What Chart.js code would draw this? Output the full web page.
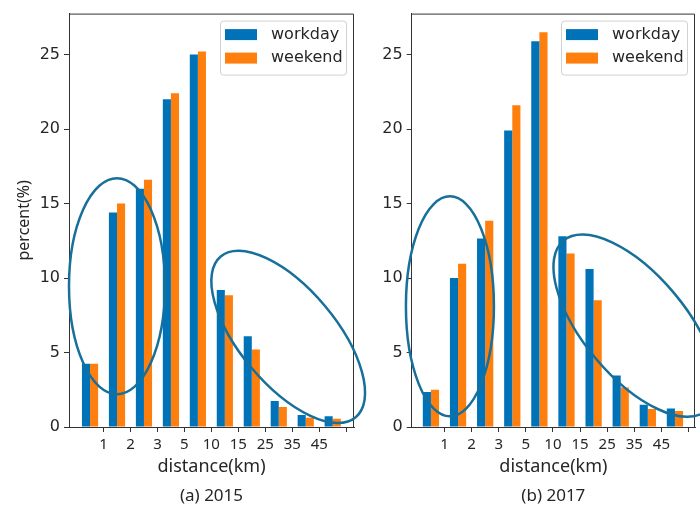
<!DOCTYPE html>
<html>
<head>
<meta charset="utf-8">
<script src="https://cdn.jsdelivr.net/npm/chart.js@4.4.1/dist/chart.umd.min.js"></script>
<style>
  html, body { margin: 0; padding: 0; background: #fff; }
  #wrap { position: relative; width: 700px; height: 506px; overflow: hidden; }
  #wrap canvas { position: absolute; top: 0; }
  #chart2015 { left: 0; }
  #chart2017 { left: 350px; }
</style>
</head>
<body>
<div id="wrap">
  <canvas id="chart2015" width="370" height="506"></canvas>
  <canvas id="chart2017" width="350" height="506"></canvas>
</div>
<script>
// DATA
// =============================================================================

// bin edges shown between the bar groups (last tick has no label)
const distanceEdges = ["1", "2", "3", "5", "10", "15", "25", "35", "45", ""];
const binIndex = [0, 1, 2, 3, 4, 5, 6, 7, 8, 9];
const edgeTicks = [0.5, 1.5, 2.5, 3.5, 4.5, 5.5, 6.5, 7.5, 8.5, 9.5];
const percentTicks = [0, 5, 10, 15, 20, 25];

const workday2015 = [4.25, 14.4, 16.0, 22.0, 25.0, 9.2, 6.1, 1.75, 0.8, 0.72];
const weekend2015 = [4.25, 15.0, 16.6, 22.4, 25.2, 8.85, 5.2, 1.35, 0.62, 0.55];
const workday2017 = [2.35, 10.0, 12.65, 19.9, 25.9, 12.8, 10.6, 3.45, 1.5, 1.25];
const weekend2017 = [2.5, 10.95, 13.85, 21.6, 26.5, 11.65, 8.5, 2.65, 1.2, 1.08];

// highlight ellipses: centre in data units, radii in px, rotation in degrees
const ellipses2015 = [
  { x: 1.0, y: 9.45, rx: 48, ry: 108, angle: 0 },
  { x: 7.35, y: 6.05, rx: 105, ry: 48, angle: 50 },
];
const ellipses2017 = [
  { x: 0.7, y: 8.1, rx: 44, ry: 110, angle: 0 },
  { x: 7.52, y: 6.8, rx: 111, ry: 51, angle: 50 },
];

const WORKDAY_COLOR = "#0072b8";
const WEEKEND_COLOR = "#ff7f0e";
const ELLIPSE_COLOR = "#17709a";
const AXIS_COLOR = "#333333";
const TEXT_COLOR = "#262626";

// =============================================================================

const toPoints = (values) => values.map((v, i) => ({ x: binIndex[i], y: v }));

// draws the top/right spines, the inset legend and the ellipses
const decorPlugin = {
  id: "decor",
  afterDraw(chart, args, opts) {
    const { ctx, chartArea: a, scales } = chart;
    ctx.save();

    ctx.strokeStyle = AXIS_COLOR;
    ctx.lineWidth = 1;
    ctx.beginPath();
    ctx.moveTo(a.left, a.top + 0.5);
    ctx.lineTo(a.right - 0.5, a.top + 0.5);
    ctx.lineTo(a.right - 0.5, a.bottom);
    ctx.stroke();

    // legend box
    const bw = 126, bh = 54;
    const bx = a.right - 8 - bw, by = a.top + 7;
    ctx.beginPath();
    ctx.roundRect(bx + 0.5, by + 0.5, bw, bh, 3);
    ctx.fillStyle = "rgba(255,255,255,0.85)";
    ctx.fill();
    ctx.strokeStyle = "#d0d0d0";
    ctx.stroke();
    ctx.font = "16px 'DejaVu Sans'";
    ctx.textBaseline = "middle";
    chart.data.datasets.forEach((ds, i) => {
      const cy = by + 14 + i * 23.5;
      ctx.fillStyle = ds.backgroundColor;
      ctx.fillRect(bx + 5, cy - 5.5, 32, 11);
      ctx.fillStyle = TEXT_COLOR;
      ctx.fillText(ds.label, bx + 51, cy);
    });

    (opts.ellipses || []).forEach((e) => {
      ctx.beginPath();
      ctx.ellipse(scales.x.getPixelForValue(e.x), scales.y.getPixelForValue(e.y),
        e.rx, e.ry, (e.angle * Math.PI) / 180, 0, 2 * Math.PI);
      ctx.strokeStyle = ELLIPSE_COLOR;
      ctx.lineWidth = 2.5;
      ctx.stroke();
    });
    ctx.restore();
  },
};

const buildChart = (canvasId, panel) => new Chart(document.getElementById(canvasId), {
  type: "bar",
  data: {
    datasets: [
      { label: "workday", data: toPoints(panel.workday), backgroundColor: WORKDAY_COLOR },
      { label: "weekend", data: toPoints(panel.weekend), backgroundColor: WEEKEND_COLOR },
    ],
  },
  options: {
    responsive: false,
    animation: false,
    devicePixelRatio: 1,
    layout: { padding: panel.padding },
    datasets: { bar: { categoryPercentage: 0.6, barPercentage: 1, borderWidth: 0 } },
    plugins: {
      legend: { display: false },
      tooltip: { enabled: false },
      title: {
        display: true,
        position: "bottom",
        fullSize: false,
        text: panel.caption,
        color: TEXT_COLOR,
        font: { family: "'Noto Sans'", size: 17, weight: "normal" },
        padding: { top: 1, bottom: 0 },
      },
      decor: { ellipses: panel.ellipses },
    },
    scales: {
      x: {
        type: "linear",
        min: panel.xMin,
        max: panel.xMax,
        offset: false,
        grid: { offset: false, drawOnChartArea: false, tickLength: 5, color: AXIS_COLOR },
        border: { color: AXIS_COLOR },
        ticks: {
          autoSkip: false,
          maxRotation: 0,
          padding: 4,
          color: TEXT_COLOR,
          font: { family: "'Noto Sans'", size: 15 },
          callback: (v, i) => distanceEdges[i] ?? "",
        },
        afterBuildTicks: (s) => { s.ticks = edgeTicks.map((v) => ({ value: v })); },
        afterFit: (s) => { s.height = 57.6; },
        title: {
          display: true,
          text: "distance(km)",
          color: TEXT_COLOR,
          font: { family: "'Noto Sans'", size: 18 },
          padding: { top: 4, bottom: 7 },
        },
      },
      y: {
        min: 0,
        max: 27.75,
        grid: { drawOnChartArea: false, tickLength: 5, color: AXIS_COLOR },
        border: { color: AXIS_COLOR },
        ticks: {
          padding: 4,
          color: TEXT_COLOR,
          font: { family: "'DejaVu Sans'", size: 16 },
        },
        afterBuildTicks: (s) => { s.ticks = percentTicks.map((v) => ({ value: v })); },
        afterFit: (s) => { s.width = panel.yAxisWidth; },
        title: {
          display: panel.showYTitle,
          text: "percent(%)",
          color: TEXT_COLOR,
          font: { family: "'Noto Sans'", size: 16 },
          padding: { top: 15, bottom: 0 },
        },
      },
    },
  },
  plugins: [decorPlugin],
});

buildChart("chart2015", {
  workday: workday2015,
  weekend: weekend2015,
  ellipses: ellipses2015,
  caption: "(a) 2015",
  xMin: -0.78,
  xMax: 9.79,
  yAxisWidth: 69,
  showYTitle: true,
  padding: { top: 11, right: 16, left: 0, bottom: 0 },
});

buildChart("chart2017", {
  workday: workday2017,
  weekend: weekend2017,
  ellipses: ellipses2017,
  caption: "(b) 2017",
  xMin: -0.71,
  xMax: 9.74,
  yAxisWidth: 61.7,
  showYTitle: false,
  padding: { top: 11, right: 5, left: 0, bottom: 0 },
});
</script>
</body>
</html>
